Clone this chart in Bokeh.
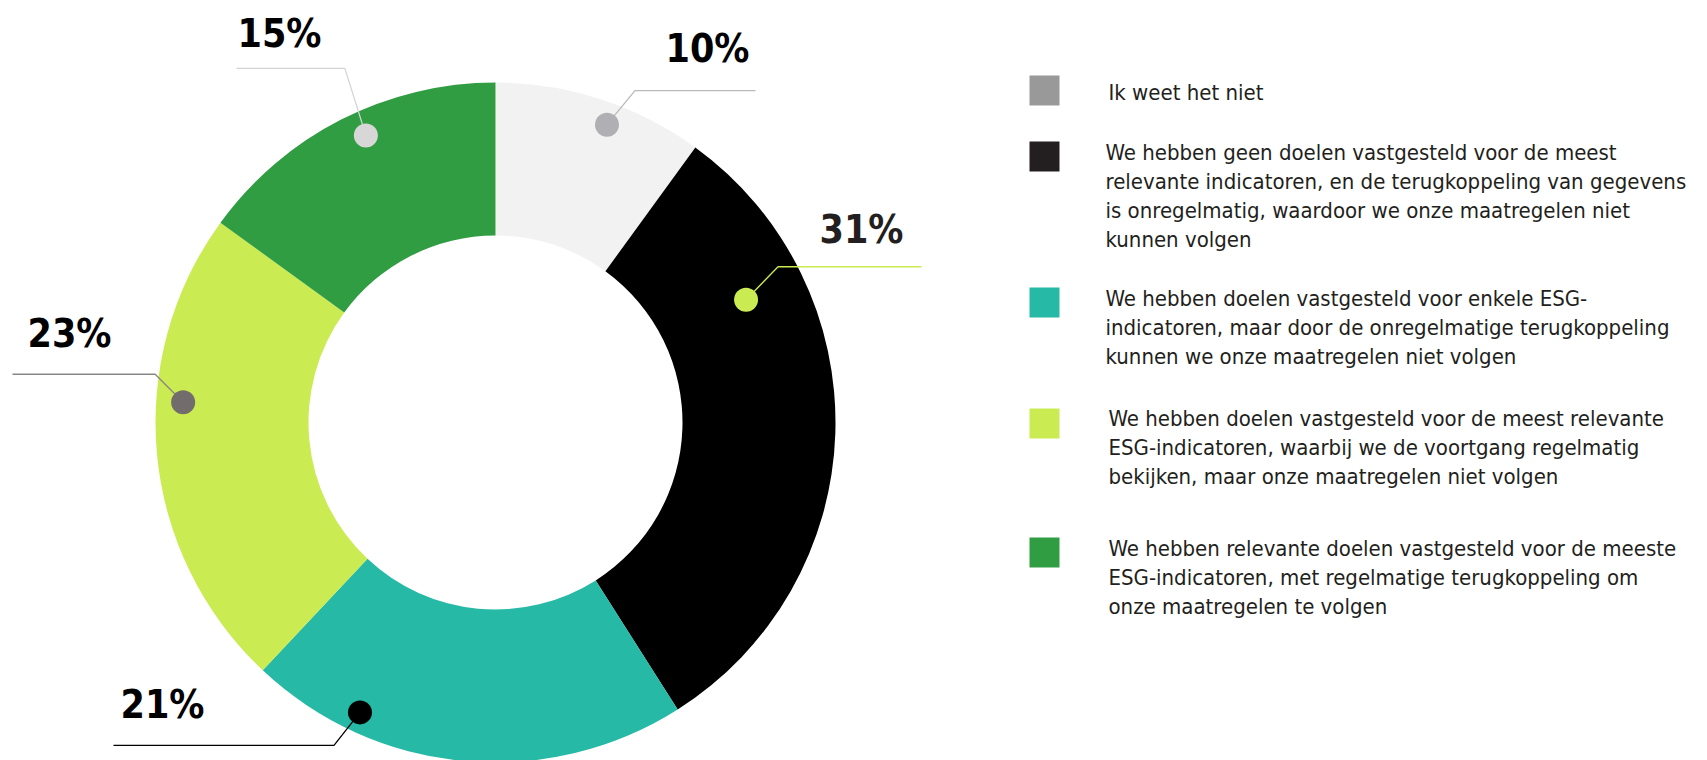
import math
from bokeh.plotting import figure
from bokeh.models import Range1d
from bokeh.core.properties import value
from bokeh.embed import file_html
from bokeh.resources import INLINE

# ---------------- data ----------------
categories = [
    ["Ik weet het niet"],
    ["We hebben geen doelen vastgesteld voor de meest",
     "relevante indicatoren, en de terugkoppeling van gegevens",
     "is onregelmatig, waardoor we onze maatregelen niet",
     "kunnen volgen"],
    ["We hebben doelen vastgesteld voor enkele ESG-",
     "indicatoren, maar door de onregelmatige terugkoppeling",
     "kunnen we onze maatregelen niet volgen"],
    ["We hebben doelen vastgesteld voor de meest relevante",
     "ESG-indicatoren, waarbij we de voortgang regelmatig",
     "bekijken, maar onze maatregelen niet volgen"],
    ["We hebben relevante doelen vastgesteld voor de meeste",
     "ESG-indicatoren, met regelmatige terugkoppeling om",
     "onze maatregelen te volgen"],
]
shares = [10, 31, 21, 23, 15]
pct_labels = ["10%", "31%", "21%", "23%", "15%"]

ring_colors = ["#f2f2f2", "#000000", "#26b9a5", "#cbeb52", "#319d43"]
legend_colors = ["#999999", "#231f20", "#26b9a5", "#cbeb52", "#319d43"]
dot_colors = ["#b0b0b4", "#cbeb52", "#000000", "#736c6c", "#d7d7d7"]
leader_colors = ["#b9b9b9", "#cbeb52", "#000000", "#8a8585", "#d4d4d4"]
label_colors = ["#000000", "#231f20", "#000000", "#000000", "#000000"]

# ---------------- layout (screen px) ----------------
W, H = 1691, 760
def X(sx):
    return sx
def Y(sy):
    return H - sy

CX, CY = 495, 422
R_OUT, R_IN = 340, 187

# dot placement: fraction through slice, distance from centre
dot_frac = [0.57, 0.25, 0.76, 0.61, 0.55]
dot_dist = [318, 279, 320, 313, 315]
# leader: elbow offset from dot (screen dx, dy), horizontal end x
elbow_off = [(28, -34), (32, -33), (-26, 33), (-28, -28), (-21, -67)]
line_end_x = [755, 921, 113, 12, 236]
label_anchor = [(749, "right"), (903, "right"), (120, "left"), (27, "left"), (237, "left")]
label_gap = [42, 37, 41, 41, 35]

legend_sq_x = 1029
legend_sq = 30
legend_tops = [75, 141, 287, 408, 537]
legend_text_x = [1108, 1105, 1105, 1108, 1108]
legend_first_off = [17, 11, 11, 10, 11]
line_pitch = 29

LEG_FONT = "DejaVu Sans Condensed"
PCT_FONT = "DejaVu Sans Condensed"

p = figure(width=W, height=H, output_backend="svg", toolbar_location=None,
           x_range=Range1d(0, W), y_range=Range1d(0, H), min_border=0,
           outline_line_color=None)
p.axis.visible = False
p.grid.visible = False
p.background_fill_color = "white"
p.border_fill_color = "white"

# ring
total = float(sum(shares))
starts, ends = [], []
cum = 0.0
for s in shares:
    a0 = math.pi / 2 - 2 * math.pi * cum / total
    cum += s
    a1 = math.pi / 2 - 2 * math.pi * cum / total
    starts.append(a0)
    ends.append(a1)

p.annular_wedge(x=[X(CX)] * len(shares), y=[Y(CY)] * len(shares),
                inner_radius=R_IN, outer_radius=R_OUT,
                start_angle=starts, end_angle=ends, direction="clock",
                fill_color=ring_colors, line_color=None)

# leaders, dots, labels
for i in range(len(shares)):
    ang = starts[i] + (ends[i] - starts[i]) * dot_frac[i]
    dx = X(CX) + dot_dist[i] * math.cos(ang)
    dy = Y(CY) + dot_dist[i] * math.sin(ang)
    ex = dx + elbow_off[i][0]
    ey = dy - elbow_off[i][1]
    p.line(x=[dx, ex, X(line_end_x[i])], y=[dy, ey, ey],
           line_color=leader_colors[i], line_width=1.3)
    p.scatter(x=[dx], y=[dy], size=24, marker="circle",
              fill_color=dot_colors[i], line_color=None)
    lx, al = label_anchor[i]
    p.text(x=[X(lx)], y=[ey + label_gap[i]], text=[pct_labels[i]],
           text_font=value(PCT_FONT), text_font_style="bold",
           text_font_size="39px", text_color=label_colors[i],
           text_align=al, text_baseline="alphabetic")

# legend
for i, lines in enumerate(categories):
    top = legend_tops[i]
    p.quad(left=[X(legend_sq_x)], right=[X(legend_sq_x + legend_sq)],
           top=[Y(top)], bottom=[Y(top + legend_sq)],
           fill_color=legend_colors[i], line_color=None)
    ys = [Y(top + legend_first_off[i] + k * line_pitch) for k in range(len(lines))]
    p.text(x=[X(legend_text_x[i])] * len(lines), y=ys, text=lines,
           text_font=value(LEG_FONT), text_font_size="22px",
           text_color="#231f20", text_align="left", text_baseline="middle")

open("out.html", "w").write(file_html(p, INLINE))
